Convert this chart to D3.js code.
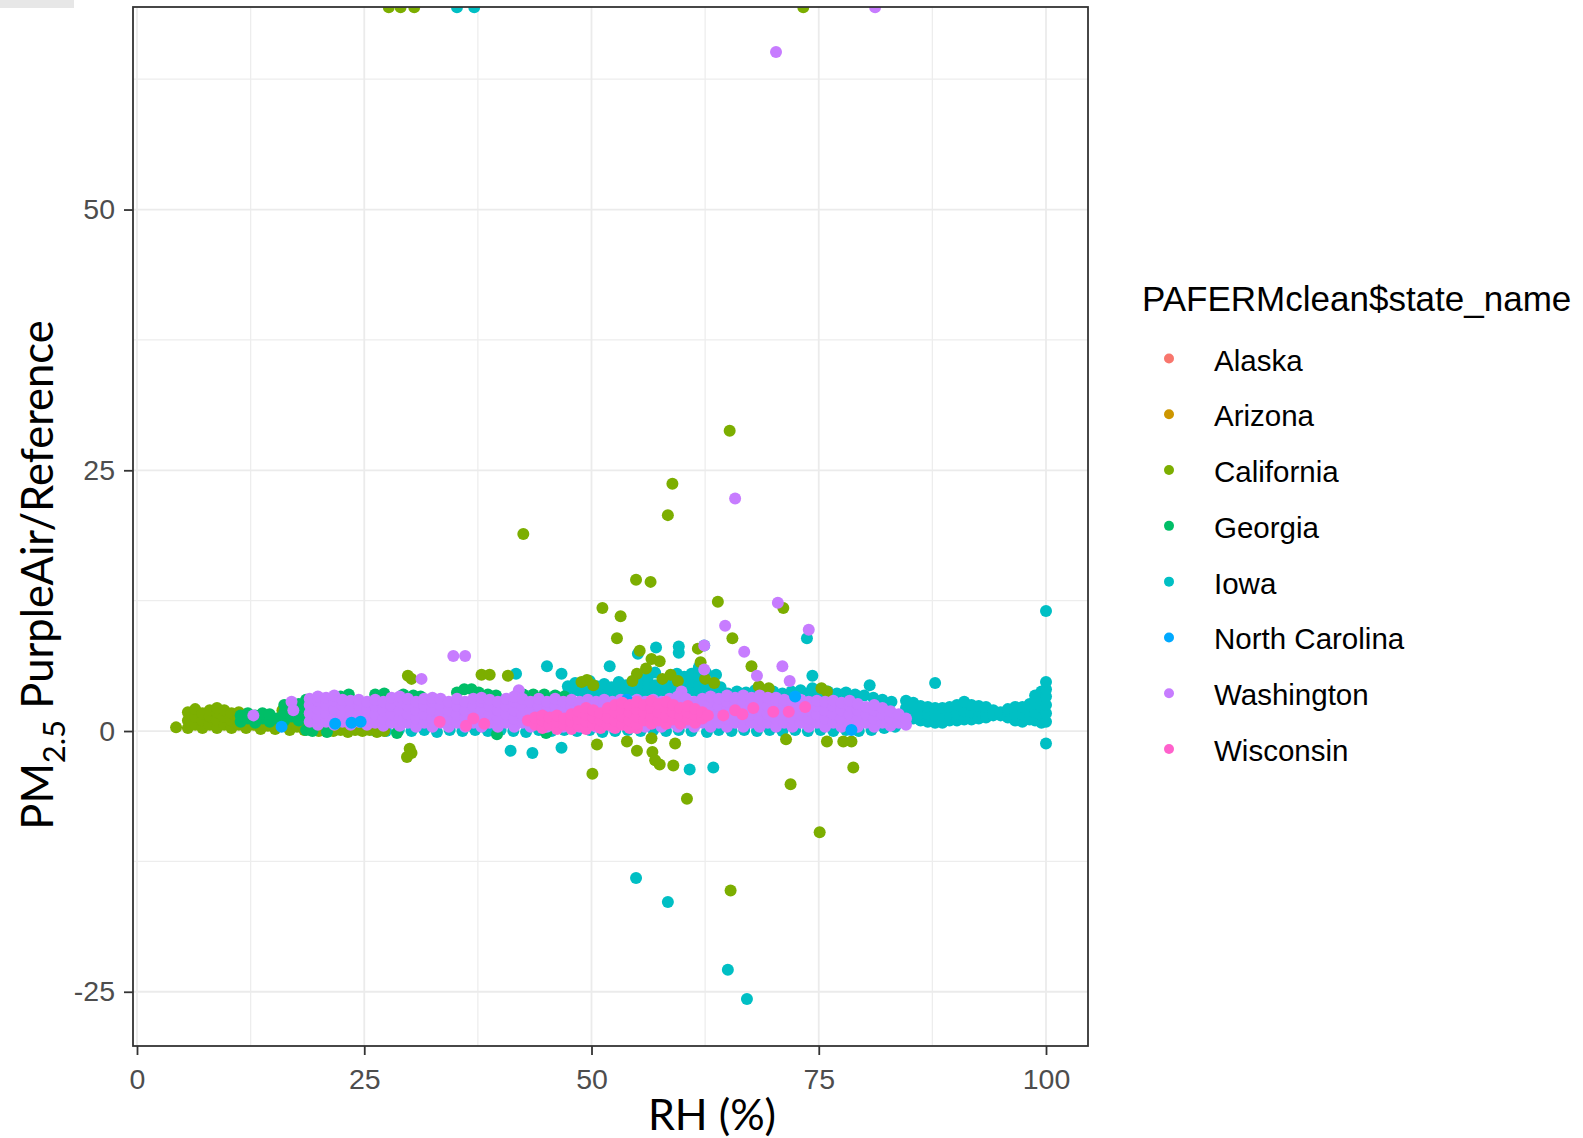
<!DOCTYPE html>
<html>
<head>
<meta charset="utf-8">
<script src="https://cdn.jsdelivr.net/npm/d3@7"></script>
<style>
  html, body { margin: 0; padding: 0; background: #ffffff; }
  svg { display: block; }
</style>
</head>
<body>
<svg id="chart" width="1583" height="1138"></svg>
<script>
// ---- categories, colours, ticks ----
const states = ["Alaska", "Arizona", "California", "Georgia", "Iowa", "North Carolina", "Washington", "Wisconsin"];
const stateColors = ["#F8766D", "#CD9600", "#7CAE00", "#00BE67", "#00BFC4", "#00A9FF", "#C77CFF", "#FF61CC"];
const xTicks = [0, 25, 50, 75, 100];
const yTicks = [-25, 0, 25, 50];
const xMinor = [12.5, 37.5, 62.5, 87.5];
const yMinor = [-12.5, 12.5, 37.5, 62.5];

// ---- observations: each row is [RH, ratio, ratio, ...] (several ratios share one RH) ----
const alaska = [[40.0, 1.8], [52.0, 1.6]];
const arizona = [[45.0, 1.9], [60.0, 1.7]];

const california = [
  [4.3, 0.35],
  [5.6, 0.3, 1.0, 1.8], [6.4, 0.6, 1.4, 2.1], [7.2, 0.3, 1.0, 1.7], [8.0, 0.6, 1.4, 2.0],
  [8.8, 0.3, 1.0, 1.8, 2.2], [9.6, 0.6, 1.4, 2.0], [10.4, 0.3, 1.0, 1.7], [11.2, 0.6, 1.4, 1.8],
  [12.0, 0.3, 1.0, 1.6], [12.8, 0.6, 1.3], [13.6, 0.2, 1.0, 1.5], [14.4, 0.5, 1.3],
  [15.2, 0.2, 1.0], [16.0, 0.5, 1.3, 2.0], [16.8, 0.1, 0.9, 1.7], [17.6, 0.4, 1.2, 2.0],
  [18.4, 0.1, 0.9, 1.6], [19.2, 0.3, 1.2], [20.0, 0.0], [20.8, 0.2], [21.6, 0.0], [22.4, 0.1],
  [23.2, -0.1], [24.0, 0.1], [24.8, 0.0], [25.6, 0.1], [26.4, -0.1], [27.2, 0.0],
  [27.7, 69.4], [29.0, 69.4], [30.5, 69.4], [73.3, 69.4],
  [29.8, 5.3], [30.2, 5.0], [37.9, 5.4], [38.8, 5.4], [40.8, 5.3],
  [30.0, -1.7], [30.2, -2.1], [29.7, -2.5],
  [42.5, 18.9], [48.9, 4.7], [49.5, 4.9], [50.2, 4.4],
  [51.2, 11.8], [53.2, 11.0], [52.8, 8.9], [54.9, 14.5], [56.5, 14.3],
  [58.9, 23.7], [58.4, 20.7], [65.2, 28.8], [63.9, 12.4], [71.1, 11.8], [65.5, 8.9], [67.6, 6.2],
  [55.3, 7.7], [56.6, 6.9], [57.5, 6.7], [56.0, 6.0], [55.0, 5.5], [54.5, 4.8], [57.8, 5.0],
  [58.7, 5.4], [59.5, 4.8], [61.7, 7.9], [62.0, 6.6], [62.5, 5.0], [63.5, 4.6],
  [68.4, 4.3], [69.5, 4.1], [75.3, 4.1], [75.9, 3.8],
  [50.6, -1.3], [53.9, -1.0], [55.0, -1.9], [56.6, -0.7], [56.7, -2.0], [57.0, -2.8],
  [57.5, -3.2], [59.2, -1.2], [59.0, -3.3], [50.1, -4.1], [60.5, -6.5],
  [71.4, -0.8], [75.9, -1.0], [77.7, -1.0], [78.6, -1.0], [78.8, -3.5], [71.9, -5.1],
  [75.1, -9.7], [65.3, -15.3]
];

const georgia = [
  [11.4, 0.9, 1.5], [12.2, 1.2, 1.7], [13.0, 0.8, 1.5], [13.8, 1.2, 1.7], [14.6, 0.9, 1.6],
  [15.4, 1.2], [16.2, 1.0, 1.8, 2.5], [17.0, 1.4, 2.2], [17.8, 1.0, 1.8, 2.6],
  [18.6, 0.1, 1.4, 2.2, 3.0], [19.3, 0.0, 2.4],
  [22.4, 3.3], [23.3, 3.5], [26.2, 3.5], [27.2, 3.6], [29.3, 3.5], [30.4, 3.4], [31.2, 3.3],
  [35.2, 3.7], [36.0, 4.0], [36.8, 4.0], [37.6, 3.7], [38.6, 3.5], [39.5, 3.4],
  [42.5, 3.5], [43.6, 3.5], [44.8, 3.5], [46.0, 3.4], [47.0, 3.3],
  [20.9, -0.1], [28.6, -0.2], [39.6, -0.3], [45.0, -0.2]
];

const iowa = [
  [35.2, 69.4], [37.1, 69.4],
  [41.7, 5.5], [45.1, 6.2], [46.7, 5.5], [41.1, -1.9], [43.5, -2.1], [46.7, -1.6],
  [52.0, 6.2], [55.1, 7.4], [57.1, 8.0], [59.6, 8.1, 7.5], [62.4, 8.2], [63.7, 5.4],
  [73.7, 8.9], [74.3, 5.3, 4.1], [80.6, 4.4], [87.8, 4.6], [100, 11.5, -1.2],
  [60.8, -3.7], [63.4, -3.5], [54.9, -14.1], [58.4, -16.4], [65.0, -22.9], [67.1, -25.7],
  [47.4, 3.6, 4.3], [48.2, 3.9, 4.6], [49.0, 3.6, 4.4], [49.8, 3.9, 4.8], [50.6, 3.6, 4.3],
  [51.4, 3.9, 4.5], [52.2, 3.6, 4.2], [53.0, 3.9, 4.7], [53.8, 3.6, 4.4], [54.6, 3.9, 4.5],
  [55.4, 3.6, 4.3, 5.0], [56.2, 3.9, 4.7, 5.2], [57.0, 3.6, 4.4, 5.6], [57.8, 3.9, 4.6],
  [58.6, 3.6, 4.2, 5.0], [59.4, 3.9, 4.7, 5.5], [60.2, 3.6, 4.4, 5.2], [61.0, 3.9, 4.7, 5.5],
  [61.8, 3.6, 4.4, 5.3, 6.1], [62.6, 3.9, 4.6, 5.6], [63.4, 3.6, 4.4], [64.2, 3.9, 4.2],
  [65.0, 3.6], [66.0, 3.8], [67.0, 3.7], [68.0, 3.9], [69.0, 3.7], [70.0, 3.8], [71.0, 3.6],
  [72.0, 3.8], [73.0, 3.9], [74.0, 3.7], [75.0, 3.6], [76.0, 3.8], [77.0, 3.6], [78.0, 3.7],
  [79.0, 3.5], [80.0, 3.4], [81.0, 3.2], [82.0, 3.0, 2.6], [83.0, 2.8],
  [84.6, 1.5, 2.2, 2.9], [85.4, 1.2, 1.9, 2.7], [86.2, 1.0, 1.7, 2.4], [87.0, 0.9, 1.6, 2.3],
  [87.8, 0.8, 1.5, 2.2], [88.6, 0.8, 1.5, 2.2], [89.4, 1.0, 1.7, 2.3], [90.2, 1.0, 1.7, 2.5],
  [91.0, 1.1, 1.9, 2.8], [91.8, 1.1, 1.8, 2.5], [92.6, 1.2, 1.9, 2.4], [93.4, 1.3, 1.9, 2.3],
  [94.2, 1.5, 2.0], [95.0, 1.5, 1.8], [95.8, 1.3, 1.9, 2.1], [96.6, 1.0, 1.6, 2.3],
  [97.4, 0.9, 1.6, 2.3], [98.2, 1.1, 1.8, 2.6], [98.8, 1.0, 1.8, 2.6, 3.4],
  [99.5, 0.8, 1.5, 2.3, 3.0, 3.8], [100, 0.9, 1.7, 2.5, 3.3, 4.0, 4.7],
  [26.0, 0.1], [27.4, 0.0], [28.8, 0.1], [30.2, 0.0], [31.6, 0.1], [33.0, -0.1], [34.4, 0.1],
  [35.8, 0.0], [37.2, 0.1], [38.6, 0.0], [40.0, 0.1], [41.4, 0.0], [42.8, -0.1], [44.2, 0.1],
  [45.6, 0.0], [47.0, 0.1], [48.4, 0.0], [49.8, 0.1], [51.2, -0.1], [52.6, 0.0], [54.0, 0.1],
  [55.4, 0.0], [56.8, 0.1], [58.2, 0.0], [59.6, 0.1], [61.0, 0.0], [62.7, -0.1], [64.0, 0.1],
  [65.4, 0.0], [66.8, 0.1], [68.2, 0.0], [69.6, 0.1], [71.0, 0.0], [72.4, 0.1], [73.8, 0.0],
  [75.2, 0.1], [76.6, 0.0], [78.0, 0.1], [79.4, 0.0], [80.8, 0.1], [82.2, 0.3], [83.4, 0.4]
];

const northCarolina = [
  [15.9, 0.4], [21.8, 0.7], [23.6, 0.8], [24.6, 0.9], [53.9, 3.0], [72.4, 3.3], [78.6, 0.1]
];

const washington = [
  [12.8, 1.5], [17.0, 2.8], [17.2, 2.0], [34.8, 7.2], [36.1, 7.2], [31.3, 5.0], [42.0, 3.9],
  [70.3, 65.1], [81.2, 69.4], [65.8, 22.3], [70.5, 12.3], [64.7, 10.1], [73.9, 9.7],
  [62.4, 8.2, 5.9], [66.8, 7.6], [71.0, 6.2], [68.2, 5.3], [71.8, 4.8], [59.9, 3.8],
  [19.0, 0.9, 1.7, 2.5, 3.1], [19.9, 0.6, 1.3, 2.1, 2.9, 3.3], [20.8, 0.9, 1.7, 2.5, 3.2],
  [21.7, 0.6, 1.3, 2.1, 2.9, 3.4], [22.6, 0.9, 1.7, 2.5, 3.0], [23.5, 0.6, 1.3, 2.1, 2.9],
  [24.4, 0.9, 1.7, 2.5, 3.0], [25.3, 0.6, 1.3, 2.1, 2.8], [26.2, 0.8, 1.6, 2.4, 3.0],
  [27.1, 0.5, 1.2, 2.0, 2.8], [28.0, 0.8, 1.6, 2.4, 3.2], [28.9, 0.5, 1.2, 2.0, 2.8, 3.3],
  [29.8, 0.8, 1.6, 2.4, 3.1], [30.7, 0.4, 1.2, 2.0, 2.8], [31.6, 0.8, 1.6, 2.4, 3.1],
  [32.5, 0.4, 1.2, 2.0, 2.8, 3.2], [33.4, 0.8, 1.6, 2.4, 3.1], [34.3, 0.4, 1.2, 2.0, 2.8],
  [35.2, 0.8, 1.6, 2.4, 3.1], [36.1, 0.4, 1.2, 2.0, 2.8], [37.0, 0.8, 1.6, 2.4, 3.1],
  [37.9, 0.4, 1.2, 2.0, 2.8, 3.2], [38.8, 0.8, 1.6, 2.4, 3.0], [39.7, 0.4, 1.2, 2.0, 2.8],
  [40.6, 0.8, 1.6, 2.4, 3.1], [41.5, 0.4, 1.2, 2.0, 2.8, 3.3], [42.4, 0.8, 1.6, 2.4, 3.1],
  [43.3, 0.4, 1.2, 2.0, 2.8], [44.2, 0.8, 1.6, 2.4, 3.1], [45.1, 0.4, 1.2, 2.0, 2.8],
  [46.0, 0.8, 1.6, 2.4, 3.1], [46.9, 0.4, 1.2, 2.0, 2.8], [47.8, 0.8, 1.6, 2.4, 3.0],
  [48.7, 0.4, 1.2, 2.0, 2.8], [49.6, 0.8, 1.6, 2.4, 3.0], [50.5, 0.4, 1.2, 2.0, 2.8],
  [51.4, 0.8, 1.6, 2.4, 3.0], [52.3, 0.4, 1.2, 2.0, 2.8], [53.2, 0.8, 1.6, 2.4, 3.0],
  [54.1, 0.4, 1.2, 2.0, 2.8], [55.0, 0.8, 1.6, 2.4, 3.0], [55.9, 0.4, 1.2, 2.0, 2.8],
  [56.8, 0.8, 1.6, 2.4, 3.0], [57.7, 0.4, 1.2, 2.0, 2.8], [58.6, 0.8, 1.6, 2.4, 3.1],
  [59.5, 0.4, 1.2, 2.0, 2.8, 3.3], [60.4, 0.8, 1.6, 2.4, 3.1], [61.3, 0.4, 1.2, 2.0, 2.8],
  [62.2, 0.8, 1.6, 2.4, 3.1], [63.1, 0.4, 1.2, 2.0, 2.8, 3.3], [64.0, 0.8, 1.6, 2.4, 3.1],
  [64.9, 0.4, 1.2, 2.0, 2.8, 3.4], [65.8, 0.8, 1.6, 2.4, 3.2], [66.7, 0.4, 1.2, 2.0, 2.8, 3.4],
  [67.6, 0.8, 1.6, 2.4, 3.2], [68.5, 0.4, 1.2, 2.0, 2.8, 3.4], [69.4, 0.8, 1.6, 2.4, 3.2],
  [70.3, 0.4, 1.2, 2.0, 2.8, 3.2], [71.2, 0.8, 1.6, 2.4, 3.0], [72.1, 0.4, 1.2, 2.0, 2.8],
  [73.0, 0.8, 1.6, 2.4, 3.0], [73.9, 0.4, 1.2, 2.0, 2.8], [74.8, 0.8, 1.6, 2.4, 2.9],
  [75.7, 0.4, 1.2, 2.0, 2.8], [76.6, 0.8, 1.6, 2.4, 2.9], [77.5, 0.4, 1.2, 2.0, 2.7],
  [78.4, 0.8, 1.6, 2.4, 2.9], [79.3, 0.4, 1.2, 2.0, 2.6], [80.2, 0.8, 1.6, 2.3],
  [81.1, 0.4, 1.2, 2.0, 2.5], [82.0, 0.8, 1.6, 2.2], [82.9, 0.5, 1.2, 1.9],
  [83.8, 0.8, 1.6], [84.6, 0.6, 1.2]
];

const wisconsin = [
  [33.3, 0.9], [36.2, 0.5], [37.0, 1.2], [38.2, 0.7],
  [43.0, 1.0], [43.8, 0.6, 1.3], [44.6, 0.3, 1.0, 1.5], [45.4, 0.6, 1.3], [46.2, 0.2, 0.9, 1.5],
  [47.0, 0.6, 1.2], [47.8, 0.2, 0.9, 1.6], [48.6, 0.5, 1.2, 1.9], [49.4, 0.2, 0.9, 1.6, 2.2],
  [50.2, 0.6, 1.3, 2.0], [51.0, 0.3, 1.0, 1.7], [51.8, 0.6, 1.3, 2.2], [52.6, 0.3, 1.0, 1.8, 2.5],
  [53.4, 0.6, 1.4, 2.1, 2.7], [54.2, 0.3, 1.0, 1.8, 2.5], [55.0, 0.3, 0.7, 1.4, 2.1, 2.8],
  [55.8, 1.0, 1.8, 2.5], [56.6, 0.7, 1.4, 2.2, 2.9], [57.4, 1.0, 1.8, 2.6],
  [58.2, 0.7, 1.4, 2.2, 2.8], [59.0, 1.1, 1.8, 2.5], [59.8, 0.7, 1.5, 2.2],
  [60.6, 1.1, 1.8, 2.4], [61.4, 0.8, 1.5, 2.1], [62.2, 1.2, 1.8], [62.8, 1.5],
  [64.5, 1.5], [65.8, 2.0], [66.6, 1.6], [67.8, 2.2], [70.0, 1.85], [71.7, 1.85], [73.5, 2.3]
];

// series in the order their marks are laid down
const drawOrder = [
  ["Alaska", alaska], ["Arizona", arizona], ["Iowa", iowa], ["California", california],
  ["Georgia", georgia], ["Washington", washington], ["North Carolina", northCarolina],
  ["Wisconsin", wisconsin]
];

// ---- layout ----
const W = 1583, H = 1138;
const panel = { left: 133, right: 1088, top: 7, bottom: 1046 };
const pointR = 6;

const x = d3.scaleLinear().domain([-0.44, 104.62]).range([panel.left, panel.right]);
const y = d3.scaleLinear().domain([-30.2, 69.42]).range([panel.bottom, panel.top]);
const color = d3.scaleOrdinal().domain(states).range(stateColors);

const svg = d3.select("#chart");
svg.append("rect").attr("width", W).attr("height", H).attr("fill", "#ffffff");
svg.append("rect").attr("x", 0).attr("y", 0).attr("width", 74).attr("height", 8).attr("fill", "#e7e7e7");

// grid
const grid = svg.append("g");
grid.selectAll("line.xminor").data(xMinor).join("line")
  .attr("x1", d => x(d)).attr("x2", d => x(d)).attr("y1", panel.top).attr("y2", panel.bottom)
  .attr("stroke", "#ededed").attr("stroke-width", 1.3);
grid.selectAll("line.yminor").data(yMinor).join("line")
  .attr("y1", d => y(d)).attr("y2", d => y(d)).attr("x1", panel.left).attr("x2", panel.right)
  .attr("stroke", "#ededed").attr("stroke-width", 1.3);
grid.selectAll("line.xmajor").data(xTicks).join("line")
  .attr("x1", d => x(d)).attr("x2", d => x(d)).attr("y1", panel.top).attr("y2", panel.bottom)
  .attr("stroke", "#ebebeb").attr("stroke-width", 1.8);
grid.selectAll("line.ymajor").data(yTicks).join("line")
  .attr("y1", d => y(d)).attr("y2", d => y(d)).attr("x1", panel.left).attr("x2", panel.right)
  .attr("stroke", "#ebebeb").attr("stroke-width", 1.8);

// points
svg.append("clipPath").attr("id", "panelClip").append("rect")
  .attr("x", panel.left).attr("y", panel.top)
  .attr("width", panel.right - panel.left).attr("height", panel.bottom - panel.top);

const pts = [];
drawOrder.forEach(([name, rows]) => {
  rows.forEach(row => {
    for (let i = 1; i < row.length; i++) pts.push({ state: name, rh: row[0], ratio: row[i] });
  });
});

svg.append("g").attr("clip-path", "url(#panelClip)")
  .selectAll("circle").data(pts).join("circle")
  .attr("cx", d => x(d.rh)).attr("cy", d => y(d.ratio)).attr("r", pointR)
  .attr("fill", d => color(d.state));

// panel border
svg.append("rect")
  .attr("x", panel.left).attr("y", panel.top)
  .attr("width", panel.right - panel.left).attr("height", panel.bottom - panel.top)
  .attr("fill", "none").attr("stroke", "#333333").attr("stroke-width", 1.8);

// axes
const tickFont = "'Liberation Sans', Arial, sans-serif";
const xAxis = d3.axisBottom(x).tickValues(xTicks).tickSize(9).tickPadding(14).tickFormat(d3.format("d"));
const gx = svg.append("g").attr("transform", `translate(0,${panel.bottom})`).call(xAxis);
const yAxis = d3.axisLeft(y).tickValues(yTicks).tickSize(9).tickPadding(9).tickFormat(d => String(d));
const gy = svg.append("g").attr("transform", `translate(${panel.left},0)`).call(yAxis);
[gx, gy].forEach(g => {
  g.select(".domain").remove();
  g.selectAll(".tick line").attr("stroke", "#333333").attr("stroke-width", 1.8);
  g.selectAll(".tick text").attr("fill", "#4d4d4d").style("font-family", tickFont).style("font-size", "28.5px");
});

// axis titles
const titleFont = "Lato, 'Open Sans', sans-serif";
svg.append("text")
  .attr("x", 712).attr("y", 1130)
  .attr("text-anchor", "middle")
  .style("font-family", titleFont).style("font-size", "43px").attr("fill", "#000")
  .text("RH (%)");

const yTitle = svg.append("text")
  .attr("transform", "translate(53,575) rotate(-90)")
  .attr("text-anchor", "middle")
  .style("font-family", titleFont).style("font-size", "43.5px").attr("fill", "#000");
yTitle.append("tspan").text("PM");
yTitle.append("tspan").attr("dy", 12).style("font-size", "31px").text("2.5");
yTitle.append("tspan").attr("dy", -12).text(" PurpleAir/Reference");

// legend
const legendFont = "'Liberation Sans', Arial, sans-serif";
const legend = svg.append("g");
legend.append("text")
  .attr("x", 1142).attr("y", 311)
  .style("font-family", legendFont).style("font-size", "35px").attr("fill", "#000")
  .text("PAFERMclean$state_name");
const legendY = d3.scalePoint().domain(states).range([358.5, 749]);
const item = legend.selectAll("g.item").data(states).join("g")
  .attr("transform", d => `translate(0,${legendY(d)})`);
item.append("circle").attr("cx", 1169).attr("cy", 0).attr("r", 5).attr("fill", d => color(d));
item.append("text").attr("x", 1214).attr("y", 12)
  .style("font-family", legendFont).style("font-size", "29.5px").attr("fill", "#000")
  .text(d => d);
</script>
</body>
</html>
